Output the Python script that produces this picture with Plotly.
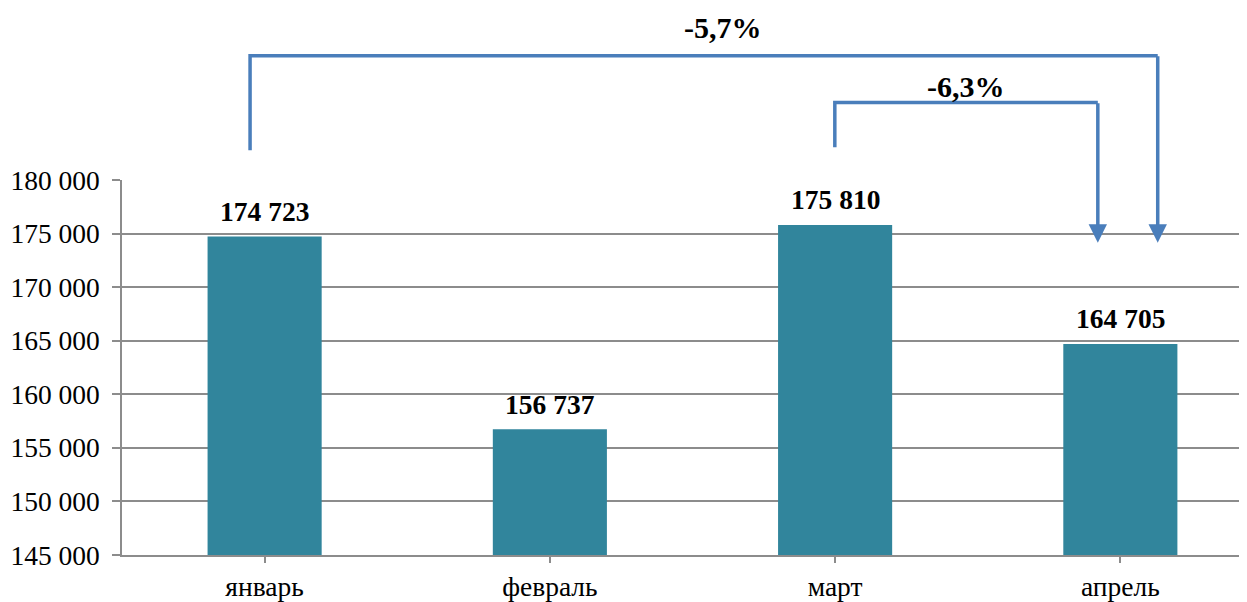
import plotly.graph_objects as go

categories = ["январь", "февраль", "март", "апрель"]
values = [174723, 156737, 175810, 164705]
value_labels = ["174 723", "156 737", "175 810", "164 705"]
y_ticks = [145000, 150000, 155000, 160000, 165000, 170000, 175000, 180000]

# bracket annotations: text, left leg x (category units), right leg x, bar-top y (paper), leg-bottom y (paper)
bracket_texts = ["-5,7%", "-6,3%"]
bracket_left_x = [-0.051, 1.999]
bracket_right_x = [3.131, 2.921]
bracket_top_y = [1.3316, 1.2069]
bracket_left_bottom_y = [1.0796, 1.0875]
bracket_text_x = [1.607, 2.458]
bracket_text_y = [1.408, 1.249]
arrow_tip_y = 0.833

BAR = "#31859c"
LINE = "#4a7ebb"
FONT = "Liberation Serif"

# page has an 8px body margin; figure sized to fill the rest of the window
W, H = 1239, 594
M_L, M_R, M_T, M_B = 114, 0, 172, 45
PLOT_H = H - M_T - M_B

fig = go.Figure()
fig.add_trace(go.Bar(x=list(range(len(categories))), y=values, marker_color=BAR,
                     marker_line_width=0, width=0.4, hoverinfo="skip"))

for i, (v, lab) in enumerate(zip(values, value_labels)):
    fig.add_annotation(x=i, y=v, xref="x", yref="y", text="<b>%s</b>" % lab,
                       showarrow=False, yanchor="middle", xanchor="center", yshift=25,
                       font=dict(family=FONT, size=27.5, color="black"))

shapes = []
for k in range(len(bracket_texts)):
    shapes.append(dict(
        type="path", xref="x", yref="paper",
        path="M %f,%f L %f,%f L %f,%f" % (
            bracket_left_x[k], bracket_left_bottom_y[k],
            bracket_left_x[k], bracket_top_y[k],
            bracket_right_x[k], bracket_top_y[k]),
        line=dict(color=LINE, width=3.5)))
    fig.add_annotation(x=bracket_right_x[k], y=arrow_tip_y, xref="x", yref="paper",
                       ax=0, ay=-(bracket_top_y[k] - arrow_tip_y) * PLOT_H,
                       axref="pixel", ayref="pixel",
                       text="", showarrow=True, arrowhead=2, arrowsize=1.05,
                       arrowwidth=3.5, arrowcolor=LINE, standoff=0, startstandoff=0)
    fig.add_annotation(x=bracket_text_x[k], y=bracket_text_y[k], xref="x", yref="paper",
                       text="<b>%s</b>" % bracket_texts[k], showarrow=False,
                       yanchor="middle", xanchor="center",
                       font=dict(family=FONT, size=30, color="black"))

fig.update_layout(
    width=W, height=H,
    margin=dict(l=M_L, r=M_R, t=M_T, b=M_B),
    paper_bgcolor="white", plot_bgcolor="white",
    separators=", ",
    showlegend=False,
    shapes=shapes,
    font=dict(family=FONT, size=27.5, color="black"),
    xaxis=dict(
        range=[-0.5, 3.444], tickmode="array",
        tickvals=list(range(len(categories))), ticktext=categories,
        showgrid=False, showline=True, linecolor="#8c8c8c", linewidth=1.5,
        ticks="outside", ticklen=6, tickcolor="#8c8c8c", tickwidth=1.5,
        tickson="boundaries",
        tickfont=dict(family=FONT, size=27.5, color="black"),
        zeroline=False,
    ),
    yaxis=dict(
        range=[145000, 180000], tickmode="array", tickvals=y_ticks,
        tickformat=",d", showgrid=True, gridcolor="#8c8c8c", gridwidth=1.5,
        showline=True, linecolor="#8c8c8c", linewidth=1.5,
        ticks="outside", ticklen=8, tickcolor="#8c8c8c", tickwidth=1.5,
        tickfont=dict(family=FONT, size=27.5, color="black"),
        zeroline=False, ticklabelstandoff=7,
    ),
)

fig.write_html("out.html")
